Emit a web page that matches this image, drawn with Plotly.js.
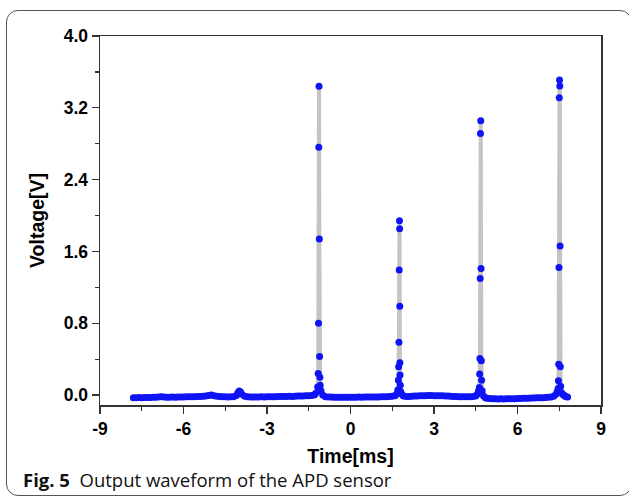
<!DOCTYPE html>
<html>
<head>
<meta charset="utf-8">
<script src="https://cdn.plot.ly/plotly-3.0.1.min.js"></script>
<style>
  html, body { margin: 0; padding: 0; background: #ffffff; }
  #wrap { position: relative; width: 629px; height: 500px; }
  #chart { position: absolute; left: 0; top: 0; width: 629px; height: 500px; }
  #frame { position: absolute; left: 6px; top: 10px; width: 626px; height: 486px;
           border: 1.5px solid #555; border-radius: 12px; pointer-events: none; box-sizing: border-box; }
</style>
</head>
<body>
<div id="wrap">
  <div id="chart"></div>
  <div id="frame"></div>
</div>
<script>
const timeMs = [
  -7.8,-7.7,-7.6,-7.5,-7.4,-7.3,-7.2,-7.1,-7.0,-6.9,-6.8,-6.7,-6.6,-6.5,-6.4,-6.3,-6.2,-6.1,-6.0,
  -5.9,-5.8,-5.7,-5.6,-5.5,-5.4,-5.3,-5.2,-5.1,-5.0,-4.9,-4.8,-4.7,-4.6,-4.5,-4.4,-4.3,-4.2,-4.1,
  -4.05,-4.0,-3.95,-3.9,-3.8,-3.7,-3.6,-3.5,-3.4,-3.3,-3.2,-3.1,-3.0,-2.9,-2.8,-2.7,-2.6,-2.5,-2.4,
  -2.3,-2.2,-2.1,-2.0,-1.9,-1.8,-1.7,-1.6,-1.5,-1.4,-1.3,-1.25,
  -1.18,-1.16,-1.15,-1.14,-1.13,-1.12,-1.11,-1.10,-1.09,-1.06,-1.0,
  -0.9,-0.8,-0.7,-0.6,-0.5,-0.4,-0.3,-0.2,-0.1,0.0,0.1,0.2,0.3,0.4,0.5,0.6,0.7,0.8,0.9,1.0,1.1,1.2,
  1.3,1.4,1.5,1.6,1.65,1.70,
  1.72,1.73,1.74,1.75,1.76,1.765,1.77,1.775,1.78,1.79,1.80,1.85,1.9,
  2.0,2.1,2.2,2.3,2.4,2.5,2.6,2.7,2.8,2.9,3.0,3.1,3.2,3.3,3.4,3.5,3.6,3.7,3.8,3.9,4.0,4.1,4.2,4.3,
  4.4,4.5,4.55,4.6,
  4.63,4.64,4.65,4.66,4.67,4.68,4.69,4.70,4.71,4.73,4.78,4.85,
  4.9,5.0,5.1,5.2,5.3,5.4,5.5,5.6,5.7,5.8,5.9,6.0,6.1,6.2,6.3,6.4,6.5,6.6,6.7,6.8,6.9,7.0,7.1,7.2,
  7.3,7.38,7.43,
  7.46,7.47,7.48,7.49,7.50,7.51,7.52,7.53,7.54,7.55,7.58,7.62,7.66,7.7,7.75,7.8
];
const voltageV = [
  -0.030,-0.028,-0.027,-0.028,-0.027,-0.026,-0.027,-0.025,-0.024,-0.020,-0.018,-0.021,-0.024,-0.023,-0.022,-0.023,-0.021,-0.020,-0.021,
  -0.019,-0.018,-0.017,-0.018,-0.016,-0.015,-0.013,-0.010,-0.004,0.000,-0.006,-0.012,-0.016,-0.018,-0.019,-0.020,-0.019,-0.017,-0.005,
  0.025,0.045,0.035,0.010,-0.012,-0.018,-0.020,-0.021,-0.020,-0.021,-0.019,-0.020,-0.018,-0.019,-0.017,-0.018,-0.016,-0.015,-0.016,
  -0.014,-0.013,-0.014,-0.012,-0.011,-0.010,-0.009,-0.008,-0.006,-0.004,0.002,0.020,
  0.09,0.24,0.80,2.76,3.44,1.74,0.43,0.20,0.11,0.05,0.00,
  -0.018,-0.020,-0.022,-0.023,-0.024,-0.023,-0.024,-0.025,-0.024,-0.023,-0.024,-0.023,-0.022,-0.023,-0.022,-0.021,-0.022,-0.020,-0.021,-0.020,-0.019,-0.018,
  -0.017,-0.015,-0.012,-0.006,0.010,0.056,
  0.167,0.315,0.59,1.393,1.942,1.853,0.991,0.36,0.223,0.111,0.04,0.01,-0.01,
  -0.015,-0.014,-0.012,-0.011,-0.009,-0.008,-0.007,-0.006,-0.005,-0.005,-0.006,-0.006,-0.007,-0.008,-0.010,-0.011,-0.013,-0.014,-0.016,-0.017,-0.018,-0.019,-0.019,-0.018,
  -0.016,-0.010,0.010,0.050,
  0.086,0.234,0.408,1.30,2.915,3.056,1.411,0.382,0.167,0.05,-0.01,-0.03,
  -0.035,-0.038,-0.040,-0.041,-0.042,-0.041,-0.042,-0.041,-0.040,-0.040,-0.039,-0.038,-0.037,-0.036,-0.035,-0.034,-0.033,-0.031,-0.030,-0.029,-0.028,-0.026,-0.024,-0.020,
  -0.012,0.010,0.040,
  0.075,0.16,0.345,1.422,3.312,3.509,3.442,1.66,0.315,0.10,0.03,0.01,0.00,-0.01,-0.018,-0.022
];
const xTickVals = [-9, -6, -3, 0, 3, 6, 9];
const yTickVals = [0.0, 0.8, 1.6, 2.4, 3.2, 4.0];
const yTickText = ['0.0', '0.8', '1.6', '2.4', '3.2', '4.0'];
const xTitle = 'Time[ms]';
const yTitle = 'Voltage[V]';
const captionBold = 'Fig. 5';
const captionText = 'Output waveform of the APD sensor';

const fam = 'Liberation Sans, Arial, sans-serif';

const trace = {
  x: timeMs,
  y: voltageV,
  type: 'scatter',
  mode: 'lines+markers',
  line: { color: '#c4c4c4', width: 4 },
  marker: { color: '#0f14f5', size: 7 },
  hoverinfo: 'x+y'
};

const layout = {
  width: 629,
  height: 500,
  margin: { l: 100, r: 28, t: 36, b: 95 },
  paper_bgcolor: '#ffffff',
  plot_bgcolor: '#ffffff',
  showlegend: false,
  font: { family: fam, size: 16, color: '#000' },
  xaxis: {
    range: [-9, 9],
    tickmode: 'array',
    tickvals: xTickVals,
    ticktext: xTickVals.map(String),
    ticks: 'outside',
    ticklen: 7,
    tickwidth: 1.3,
    tickcolor: '#333',
    showline: true,
    linecolor: '#333',
    linewidth: 1.5,
    mirror: true,
    showgrid: false,
    zeroline: false,
    tickfont: { family: fam, size: 17.5, color: '#000', weight: 'bold' },
    minor: { dtick: 1.5, tick0: 0, ticks: 'outside', ticklen: 4, tickcolor: '#333', showgrid: false },
    title: { text: '<b>' + xTitle + '</b>', font: { family: fam, size: 19.5, color: '#000' }, standoff: 12 }
  },
  yaxis: {
    range: [-0.11, 4.0],
    tickmode: 'array',
    tickvals: yTickVals,
    ticktext: yTickText,
    ticks: 'outside',
    ticklen: 7,
    tickwidth: 1.3,
    tickcolor: '#333',
    showline: true,
    linecolor: '#333',
    linewidth: 1.5,
    mirror: true,
    showgrid: false,
    zeroline: false,
    tickfont: { family: fam, size: 17.5, color: '#000', weight: 'bold' },
    minor: { dtick: 0.4, tick0: 0, ticks: 'outside', ticklen: 4, tickcolor: '#333', showgrid: false },
    title: { text: '<b>' + yTitle + '</b>', font: { family: fam, size: 19.5, color: '#000' }, standoff: 14 }
  },
  annotations: [{
    xref: 'paper', yref: 'paper',
    x: -0.158, y: -0.202,
    xanchor: 'left', yanchor: 'middle',
    showarrow: false,
    text: '<b>' + captionBold + '</b>&nbsp;&nbsp;' + captionText,
    font: { family: 'Open Sans, Noto Sans, sans-serif', size: 18.5, color: '#111' }
  }]
};

Plotly.newPlot('chart', [trace], layout, { staticPlot: true, displayModeBar: false });
</script>
</body>
</html>
